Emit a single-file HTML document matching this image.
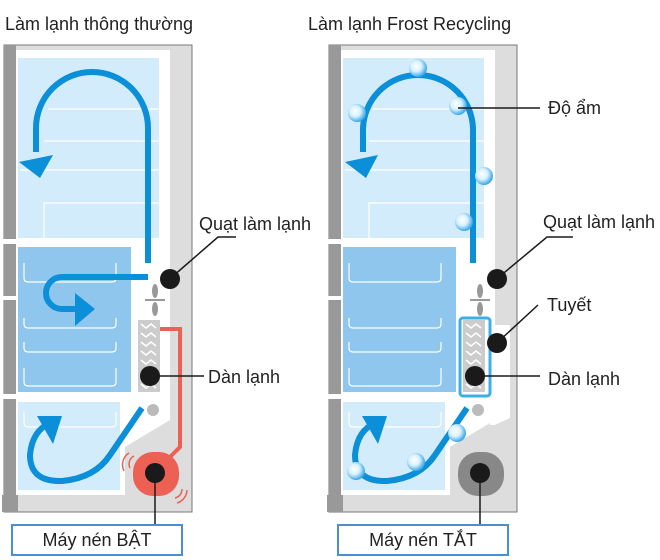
<!DOCTYPE html>
<html><head><meta charset="utf-8"><style>
html,body{margin:0;padding:0;background:#fff;width:660px;height:560px;overflow:hidden}
svg{display:block}
text{font-family:"Liberation Sans",sans-serif;fill:#222}
</style></head><body>
<svg width="660" height="560" viewBox="0 0 660 560" xmlns="http://www.w3.org/2000/svg">
<defs>
<radialGradient id="bub" cx="0.4" cy="0.4" r="0.6">
<stop offset="0" stop-color="#fff"/><stop offset="0.5" stop-color="#d8f1ff"/><stop offset="1" stop-color="#3aa8e8"/>
</radialGradient>
<g id="body">
<rect x="4" y="45" width="188" height="467" fill="#ddd" stroke="#777" stroke-width="1"/>
<polygon points="16,50 170,50 170,420 125,447 125,495 16,495" fill="#fff"/>
<rect x="4" y="45" width="12" height="450" fill="#999"/>
<rect x="2" y="495" width="16" height="17" fill="#999"/>
<rect x="2" y="239" width="16" height="5" fill="#fff"/>
<rect x="2" y="296" width="16" height="4" fill="#fff"/>
<rect x="2" y="394" width="16" height="5" fill="#fff"/>
<rect x="18" y="58" width="141" height="180" fill="#d2ecfb"/>
<g stroke="#fff" stroke-width="1.2" fill="none">
<line x1="48" y1="109" x2="159" y2="109"/><line x1="44" y1="141" x2="159" y2="141"/>
<line x1="20" y1="170" x2="159" y2="170"/><polyline points="44,238 44,203 159,203"/>
</g>
<rect x="18" y="247" width="113" height="145" fill="#8ec6ee"/>
<g stroke="#fff" stroke-width="1.2" fill="none">
<path d="M24,263 v15 q0,4 4,4 h84 q4,0 4,-4 v-15"/>
<path d="M24,318 v6 q0,4 4,4 h84 q4,0 4,-4 v-6"/>
<path d="M24,342 v6 q0,4 4,4 h84 q4,0 4,-4 v-6"/>
<path d="M24,368 v14 q0,4 4,4 h84 q4,0 4,-4 v-14"/>
</g>
<rect x="18" y="402" width="102" height="88" fill="#d2ecfb"/>
<g stroke="#fff" stroke-width="1.2" fill="none">
<path d="M24,412 v11 q0,4 4,4 h84 q4,0 4,-4 v-11"/>
</g>
<g fill="#999">
<ellipse cx="155" cy="291" rx="3" ry="7"/><ellipse cx="155" cy="309" rx="3" ry="7"/>
<rect x="145" y="299" width="20" height="2"/>
</g>
<circle cx="153" cy="410" r="6" fill="#bbb"/>
<rect x="138" y="320" width="22" height="72" fill="#ccc"/>
<g stroke="#fff" stroke-width="1.5" fill="none">
<polyline points="141,324 146,328 151,324 156,328"/>
<polyline points="141,333 146,337 151,333 156,337"/>
<polyline points="141,342 146,346 151,342 156,346"/>
<polyline points="141,351 146,355 151,351 156,355"/>
<polyline points="141,360 146,364 151,360 156,364"/>
<polyline points="141,384 146,388 151,384 156,388"/>
</g>
</g>
</defs>

<text x="5" y="30" font-size="18">Làm lạnh thông thường</text>
<text x="308" y="30" font-size="18">Làm lạnh Frost Recycling</text>

<!-- LEFT -->
<use href="#body"/>
<polyline points="160,329 180,329 180,447 167,460" fill="none" stroke="#ec6154" stroke-width="4"/>
<rect x="133" y="452" width="46" height="44" rx="20" fill="#ec6154"/>
<g fill="none" stroke="#ec6154" stroke-width="1.5">
<path d="M129,453 a14,14 0 0 0 -5,18"/><path d="M134,456 a9,9 0 0 0 -4,12"/>
<path d="M177,503 a14,14 0 0 0 10,-13"/><path d="M175,498 a9,9 0 0 0 7,-9"/>
</g>
<g fill="none" stroke="#0a8fd8" stroke-width="6">
<path d="M148,263 V128 A56,56 0 0 0 36,128 V152"/>
<path d="M148,277 H62 A16,16 0 0 0 62,309 H78"/>
<path d="M142,408 L110,455 Q95,478 62,481 Q30,482 30,455 Q32,430 52,422"/>
</g>
<g fill="#0a8fd8">
<polygon points="19,162 53,155 40,178"/>
<polygon points="75,293 75,326 95,309"/>
<polygon points="37,416 62,416 53,444"/>
</g>
<g fill="#1a1a1a"><circle cx="170" cy="279" r="10"/><circle cx="150" cy="376" r="10"/><circle cx="155" cy="473" r="10"/></g>
<g stroke="#1a1a1a" stroke-width="1.5" fill="none">
<polyline points="172,277 218,237 236,237"/>
<line x1="150" y1="376" x2="204" y2="376"/>
<line x1="155" y1="473" x2="155" y2="526"/>
</g>
<text x="199" y="230" font-size="18">Quạt làm lạnh</text>
<text x="208" y="383" font-size="18">Dàn lạnh</text>
<rect x="12" y="525" width="170" height="30" fill="#fff" stroke="#4a8fd0" stroke-width="2"/>
<text x="97" y="546" font-size="18" text-anchor="middle">Máy nén BẬT</text>

<!-- RIGHT -->
<g transform="translate(325,0)"><use href="#body"/></g>
<polygon points="490,325 510,325 510,418 495,425 490,425" fill="#fff"/>
<polygon points="495,425 510,418 510,455 495,462" fill="#ddd"/>
<rect x="460" y="318" width="30" height="78" rx="3" fill="none" stroke="#3ab0ea" stroke-width="3"/>
<rect x="458" y="452" width="46" height="44" rx="20" fill="#888"/>
<g fill="none" stroke="#0a8fd8" stroke-width="6">
<path d="M473,263 V130 A55,55 0 0 0 363,130 V152"/>
<path d="M467,408 L435,455 Q420,478 387,481 Q355,482 355,455 Q357,430 377,422"/>
</g>
<g fill="#0a8fd8">
<polygon points="345,162 378,155 366,178"/>
<polygon points="362,416 387,416 378,444"/>
</g>
<g fill="url(#bub)">
<circle cx="418" cy="68" r="9"/><circle cx="357" cy="113" r="9"/><circle cx="458" cy="106" r="9"/>
<circle cx="484" cy="176" r="9"/><circle cx="464" cy="222" r="9"/>
<circle cx="457" cy="433" r="9"/><circle cx="416" cy="462" r="9"/><circle cx="356" cy="471" r="9"/>
</g>
<g fill="#1a1a1a"><circle cx="497" cy="279" r="10"/><circle cx="497" cy="343" r="10"/><circle cx="475" cy="376" r="10"/><circle cx="480" cy="473" r="10"/></g>
<g stroke="#1a1a1a" stroke-width="1.5" fill="none">
<line x1="458" y1="108" x2="540" y2="108"/>
<polyline points="499,277 547,237 573,237"/>
<line x1="499" y1="341" x2="538" y2="305"/>
<line x1="475" y1="376" x2="540" y2="376"/>
<line x1="480" y1="473" x2="480" y2="526"/>
</g>
<text x="548" y="114" font-size="18">Độ ẩm</text>
<text x="543" y="228" font-size="18">Quạt làm lạnh</text>
<text x="547" y="311" font-size="18">Tuyết</text>
<text x="548" y="385" font-size="18">Dàn lạnh</text>
<rect x="338" y="525" width="170" height="30" fill="#fff" stroke="#4a8fd0" stroke-width="2"/>
<text x="423" y="546" font-size="18" text-anchor="middle">Máy nén TẮT</text>
</svg>
</body></html>
